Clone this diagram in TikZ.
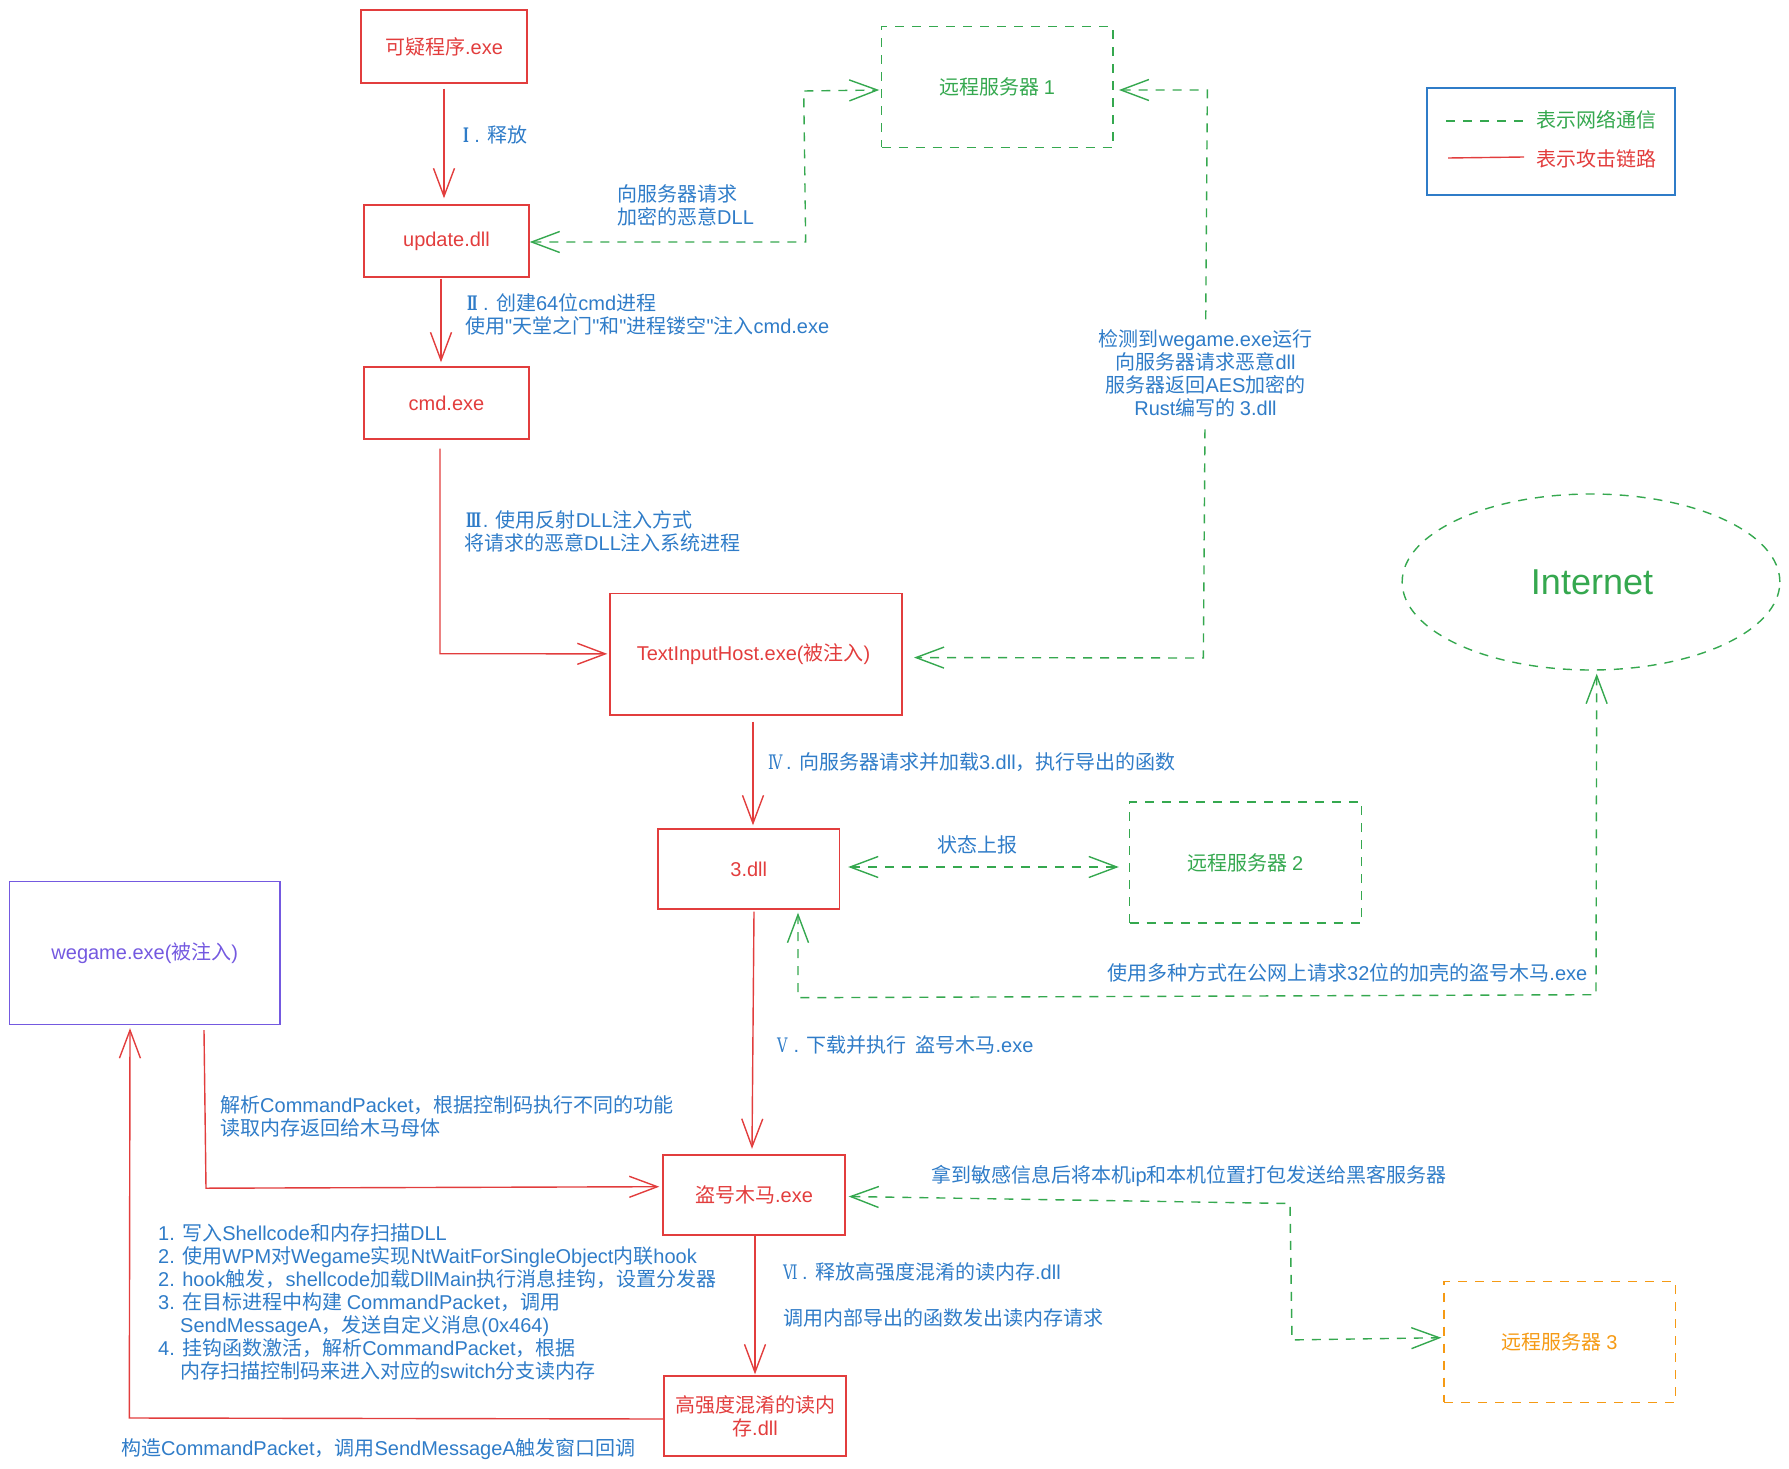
\documentclass[tikz,border=0pt]{standalone}
\usepackage{fontspec}
\setmainfont{Liberation Sans}[Ligatures=TeXOff]
\newfontfamily\cjkf{Noto Sans CJK SC}[Ligatures=TeXOff]
\newfontfamily\romb{DejaVu Serif}[UprightFont=* Bold,FakeStretch=0.62]
\newfontfamily\romr{DejaVu Serif}[FakeStretch=0.72]
\usetikzlibrary{arrows.meta,calc,shapes.geometric}
\newXeTeXintercharclass\cjkclass
\newXeTeXintercharclass\romaclass
\newXeTeXintercharclass\rombclass
\newcount\cjkcnt
\def\setrange#1#2#3{\cjkcnt=#1 \loop\XeTeXcharclass\cjkcnt=#3 \ifnum\cjkcnt<#2 \advance\cjkcnt 1 \repeat}
\setrange{"2160}{"2162}\romaclass
\setrange{"2163}{"2165}\rombclass
\setrange{"2E80}{"9FFF}\cjkclass
\setrange{"FF00}{"FFEF}\cjkclass
\XeTeXinterchartokenstate=1
\XeTeXinterchartoks 0 \cjkclass={\cjkf}
\XeTeXinterchartoks 4095 \cjkclass={\cjkf}
\XeTeXinterchartoks \cjkclass 0={\rmfamily}
\XeTeXinterchartoks 4095 0={\rmfamily}
\XeTeXinterchartoks 4095 \romaclass={\romb}
\XeTeXinterchartoks 4095 \rombclass={\romr}
\XeTeXinterchartoks \romaclass 0={\rmfamily}
\XeTeXinterchartoks \rombclass 0={\rmfamily}
\definecolor{cred}{HTML}{E23D3D}
\definecolor{cgreen}{HTML}{35A84F}
\definecolor{cblue}{HTML}{2F7CC8}
\definecolor{cpurple}{HTML}{7459E0}
\definecolor{corange}{HTML}{F59A14}
\tikzset{
  base/.style={inner sep=0pt,font=\fontsize{20}{23}\selectfont},
  box/.style={base,draw,line width=1.4pt,rectangle},
  redbox/.style={box,draw=cred,text=cred},
  greenbox/.style={box,draw=cgreen,text=cgreen,dash pattern=on 9pt off 8pt},
  lbl/.style={base,text=cblue,anchor=west,align=left},
  tipb/.tip={Straight Barb[length=28pt,width=21pt,line width=1.4pt]},
  redline/.style={draw=cred,line width=1.4pt,-{tipb}},
  greenline/.style={draw=cgreen,line width=1.4pt,dash pattern=on 9pt off 8pt,{tipb}-{tipb}},
}
\begin{document}
\begin{tikzpicture}[x=1pt,y=-1pt]
\useasboundingbox (0,0) rectangle (1789,1469);
% boxes
\node[redbox,minimum width=166,minimum height=73] (n1) at (444,46.5) {可疑程序.exe};
\node[redbox,minimum width=165,minimum height=72] (n2) at (446.5,241) {update.dll};
\node[redbox,minimum width=165,minimum height=72] (n3) at (446.5,403) {cmd.exe};
\node[redbox,minimum width=292,minimum height=121.3] (n4) at (756,654.35) {TextInputHost.exe(被注入)\hspace*{5pt}};
\node[redbox,minimum width=181.5,minimum height=80] (n5) at (748.75,869) {3.dll};
\node[redbox,minimum width=182,minimum height=80] (n6) at (754,1195) {盗号木马.exe};
\node[redbox,minimum width=182,minimum height=80,align=center] (n7) at (755,1416) {高强度混淆的读内\\存.dll};
\node[box,draw=cpurple,text=cpurple,minimum width=270.3,minimum height=142.6] (w) at (144.8,953) {wegame.exe(被注入)};
\node[greenbox,minimum width=231.3,minimum height=120.6] (r1) at (997.3,87) {远程服务器 1};
\node[greenbox,minimum width=232,minimum height=121] (r2) at (1245.5,862.5) {远程服务器 2};
\node[box,draw=corange,text=corange,dash pattern=on 9pt off 8pt,minimum width=231.3,minimum height=121] (r3) at (1559.7,1341.8) {远程服务器 3};
\node[greenbox,ellipse,minimum width=377.7,minimum height=176] (inet) at (1591,582) {};
\node[base,text=cgreen,font=\fontsize{36}{40}\selectfont] (inettext) at (1592,582) {Internet};
% legend
\node[box,draw=cblue,minimum width=248,minimum height=107] (leg) at (1551,141.5) {};
\coordinate (lg1) at (1446,121);
\coordinate (lg2) at (1524,121);
\coordinate (lr1) at (1448,158);
\coordinate (lr2) at (1524,157);
\draw[cgreen,line width=1.4pt,dash pattern=on 9pt off 8pt] (lg1) -- (lg2);
\draw[cred,line width=1.4pt] (lr1) -- (lr2);
\node[base,text=cgreen,anchor=west] (lt1) at (1536,120) {表示网络通信};
\node[base,text=cred,anchor=west] (lt2) at (1536,158.5) {表示攻击链路};
% red connectors
\draw[redline] ($(n1.south)+(0,5)$) -- ($(n2.north)+(-2.5,-6)$);
\draw[redline] ($(n2.south)+(-5.5,1)$) -- ($(n3.north)+(-5.5,-4)$);
\draw[redline] ($(n3.south)+(-6.5,9)$) -- ++(0,205) -- ($(n4.west)+(-2,-0.5)$);
\draw[redline] ($(n4.south)+(-3,6)$) -- ($(n5.north)+(4.25,-3)$);
\draw[redline] ($(n5.south)+(5.25,2)$) -- ($(n6.north)+(-2,-5.5)$);
\draw[redline] ($(n6.south)+(1,0)$) -- ($(n7.north)+(0,-1)$);
\draw[redline] ($(n7.west)+(0,3)$) -- ++(-534,-1) -- ($(w.south)+(-14.8,3.2)$);
\draw[redline] ($(w.south)+(59.2,5.2)$) -- ++(2,158) -- ($(n6.west)+(-3,-8.3)$);
% green connectors
\draw[greenline] ($(n2.east)+(0,1)$) -- ++(276,0) -- ++(-2,-151) -- ($(r1.west)+(-1.7,3)$);
\draw[greenline] ($(r1.east)+(5.3,3)$) -- ++(88.4,0) -- ++(-4,568) -- ($(n4.east)+(11.3,3.2)$);
\draw[greenline] ($(n5.east)+(8,-2)$) -- ($(r2.west)+(-10,4.5)$);
\draw[greenline] ($(inet.south)+(5.7,3)$) -- ++(-0.7,321) -- ++(-798,3) -- ($(n5.south)+(49.25,3)$);
\draw[greenline] ($(n6.east)+(3,1.5)$) -- ++(441.3,7) -- ++(2,136.4) -- ($(r3.west)+(-2,-4.1)$);
% labels
\node[lbl] (t1) at (463,135) {Ⅰ\hspace{1pt} . 释放};
\node[lbl] (t2) at (617,205.5) {向服务器请求\\加密的恶意DLL};
\node[lbl] (t3) at (465,314.5) {\hspace*{2pt}Ⅱ\hspace{5.5pt}. 创建64位cmd进程\\使用"天堂之门"和"进程镂空"注入cmd.exe};
\node[lbl] (t4) at (464,531.5) {\hspace*{2pt}Ⅲ\hspace{1.5pt}. 使用反射DLL注入方式\\将请求的恶意DLL注入系统进程};
\node[lbl] (t5) at (768,762) {Ⅳ\hspace{3.5pt}. 向服务器请求并加载3.dll，执行导出的函数};
\node[base,text=cblue] (t6) at (977,845) {状态上报};
\node[lbl] (t7) at (777,1045) {Ⅴ\hspace{1.5pt} . 下载并执行\ \ 盗号木马.exe};
\node[lbl] (t8) at (1107,973) {使用多种方式在公网上请求32位的加壳的盗号木马.exe};
\node[lbl] (t9) at (220,1116) {解析CommandPacket，根据控制码执行不同的功能\\读取内存返回给木马母体};
\node[lbl] (t10) at (931,1175.5) {拿到敏感信息后将本机ip和本机位置打包发送给黑客服务器};
\node[lbl] (t11) at (783,1272) {Ⅵ\hspace{4.5pt}. 释放高强度混淆的读内存.dll};
\node[lbl] (t12) at (783,1318) {调用内部导出的函数发出读内存请求};
\node[lbl] (t13) at (158,1302) {1. 写入Shellcode和内存扫描DLL\\2. 使用WPM对Wegame实现NtWaitForSingleObject内联hook\\2. hook触发，shellcode加载DllMain执行消息挂钩，设置分发器\\3. 在目标进程中构建 CommandPacket，调用\\\hspace*{22pt}SendMessageA，发送自定义消息(0x464)\\4. 挂钩函数激活，解析CommandPacket，根据\\\hspace*{22pt}内存扫描控制码来进入对应的switch分支读内存};
\node[lbl] (t14) at (121,1449) {构造CommandPacket，调用SendMessageA触发窗口回调};
\node[base,text=cblue,fill=white,align=center,inner ysep=8pt] (t15) at (1205.5,373) {检测到wegame.exe运行\\向服务器请求恶意dll\\服务器返回AES加密的\hspace*{9pt}\\Rust编写的 3.dll};
\end{tikzpicture}
\end{document}
